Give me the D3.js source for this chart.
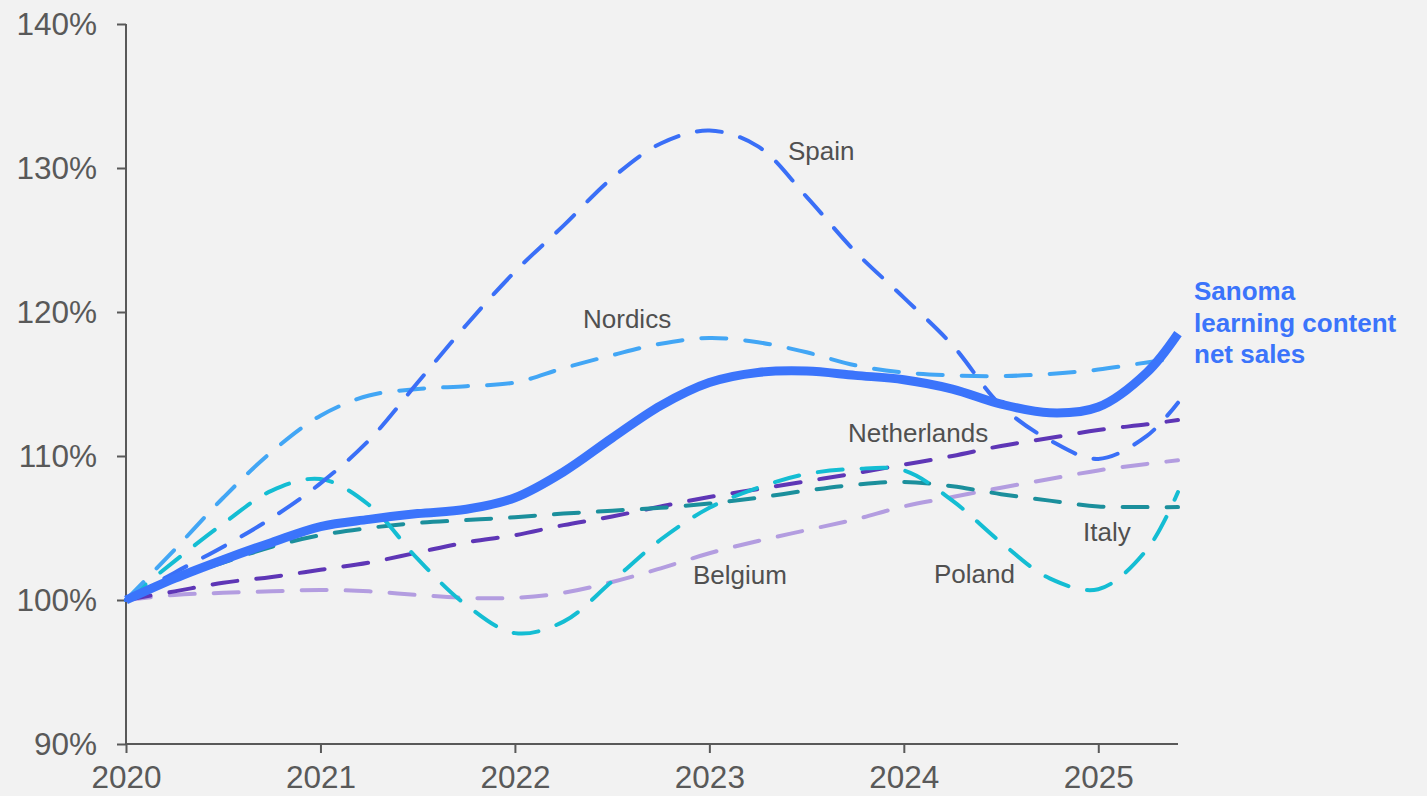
<!DOCTYPE html>
<html>
<head>
<meta charset="utf-8">
<script src="https://cdn.jsdelivr.net/npm/d3@7"></script>
<style>
  html, body { margin: 0; padding: 0; background: #f2f2f2; }
  svg { display: block; }
  text { font-family: "Liberation Sans", Arial, sans-serif; }
</style>
</head>
<body>
<svg id="chart" width="1427" height="796"></svg>
<script>
// ---- data ----
const years = [2020, 2020.25, 2020.5, 2020.75, 2021, 2021.25, 2021.5, 2021.75, 2022, 2022.25, 2022.5, 2022.75,
  2023, 2023.25, 2023.5, 2023.75, 2024, 2024.25, 2024.5, 2024.75, 2025, 2025.25, 2025.41];

const belgium     = [100, 100.35, 100.5, 100.6, 100.7, 100.6, 100.35, 100.15, 100.15, 100.5, 101.25, 102.2,
  103.25, 104.1, 104.85, 105.6, 106.5, 107.15, 107.8, 108.4, 109.0, 109.45, 109.7];
const netherlands = [100, 100.6, 101.2, 101.6, 102.1, 102.6, 103.3, 104.0, 104.5, 105.2, 105.8, 106.5,
  107.15, 107.7, 108.25, 108.8, 109.4, 110.0, 110.7, 111.25, 111.8, 112.2, 112.5];
const italy       = [100, 101.5, 102.6, 103.7, 104.5, 105.0, 105.35, 105.55, 105.75, 106.0, 106.2, 106.4,
  106.7, 107.1, 107.6, 108.0, 108.2, 107.9, 107.35, 106.9, 106.5, 106.45, 106.45];
const poland      = [100, 102.7, 105.3, 107.6, 108.4, 106.6, 102.85, 99.65, 97.7, 98.5, 101.3, 104.2,
  106.4, 107.8, 108.75, 109.1, 109.0, 106.9, 104.0, 101.5, 100.75, 103.5, 107.5];
const nordics     = [100, 103.5, 107.1, 110.3, 112.8, 114.2, 114.65, 114.85, 115.1, 116.1, 117.0, 117.8,
  118.2, 117.9, 117.2, 116.3, 115.8, 115.6, 115.55, 115.7, 116.0, 116.5, 116.8];
const spain       = [100, 101.9, 103.7, 105.7, 108.1, 111.1, 115.1, 119.1, 122.8, 126.0, 129.3, 131.7,
  132.6, 131.5, 128.0, 124.2, 121.0, 117.7, 113.5, 111.1, 109.8, 111.4, 113.7];
const sanoma      = [100, 101.5, 102.8, 104.0, 105.1, 105.6, 106.0, 106.3, 107.1, 108.9, 111.25, 113.5,
  115.1, 115.8, 115.9, 115.6, 115.3, 114.65, 113.6, 113.0, 113.4, 115.8, 118.5];

const xTicks = [2020, 2021, 2022, 2023, 2024, 2025];
const yTicks = [90, 100, 110, 120, 130, 140];

const seriesNames = ["Belgium", "Netherlands", "Italy", "Poland", "Nordics", "Spain"];
const seriesValues = [belgium, netherlands, italy, poland, nordics, spain];
const sanomaLabel = ["Sanoma", "learning content", "net sales"];

// ---- styles ----
const colors = {
  Belgium: "#b39de0",
  Netherlands: "#5e36b6",
  Italy: "#1b8f9c",
  Poland: "#14bdd3",
  Nordics: "#42a6f5",
  Spain: "#3a6ff7",
  Sanoma: "#3b74fb"
};
const labelPos = {
  Spain: [788, 160],
  Nordics: [583, 328],
  Netherlands: [848, 442],
  Italy: [1083, 541],
  Poland: [934, 583],
  Belgium: [693, 584]
};

const svg = d3.select("#chart");
const x = d3.scaleLinear().domain([2020, 2025.41]).range([126, 1178]);
const y = d3.scaleLinear().domain([90, 140]).range([744, 24]);

// axes
const axisColor = "#595959";
const yAxis = svg.append("g").attr("transform", "translate(126,0)")
  .call(d3.axisLeft(y).tickValues(yTicks).tickFormat(d => d + "%").tickSize(9).tickPadding(20));
const xAxis = svg.append("g").attr("transform", "translate(0,744)")
  .call(d3.axisBottom(x).tickValues(xTicks).tickFormat(d3.format("d")).tickSize(9).tickPadding(13));
[xAxis, yAxis].forEach(g => {
  g.select(".domain").attr("stroke", axisColor).attr("stroke-width", 2);
  g.selectAll(".tick line").attr("stroke", axisColor).attr("stroke-width", 2);
  g.selectAll(".tick text").attr("fill", axisColor).style("font-size", "31.5px")
    .style("font-family", "'Liberation Sans', Arial, sans-serif");
});
xAxis.select(".domain").attr("d", `M${x(2020)},0H${x(2025.41)}`);
yAxis.select(".domain").attr("d", `M0,${y(140)}V${y(90)}`);

const line = d3.line()
  .x((d, i) => x(years[i]))
  .y(d => y(d))
  .curve(d3.curveCatmullRom.alpha(0.5));

seriesNames.forEach((name, k) => {
  svg.append("path")
    .datum(seriesValues[k])
    .attr("d", line)
    .attr("fill", "none")
    .attr("stroke", colors[name])
    .attr("stroke-width", 4)
    .attr("stroke-linecap", "round")
    .attr("stroke-dasharray", "25,19");
});

svg.append("path")
  .datum(sanoma)
  .attr("d", line)
  .attr("fill", "none")
  .attr("stroke", colors.Sanoma)
  .attr("stroke-width", 9)
  .attr("stroke-linecap", "butt");

// labels
seriesNames.forEach(name => {
  svg.append("text")
    .attr("x", labelPos[name][0])
    .attr("y", labelPos[name][1])
    .attr("fill", "#505050")
    .style("font-size", "26px")
    .text(name);
});

const sl = svg.append("text")
  .attr("x", 1194).attr("y", 300)
  .attr("fill", colors.Sanoma)
  .style("font-size", "26px")
  .style("font-weight", "bold");
sanomaLabel.forEach((t, i) => {
  sl.append("tspan").attr("x", 1194).attr("y", 300 + i * 31.5).text(t);
});
</script>
</body>
</html>
